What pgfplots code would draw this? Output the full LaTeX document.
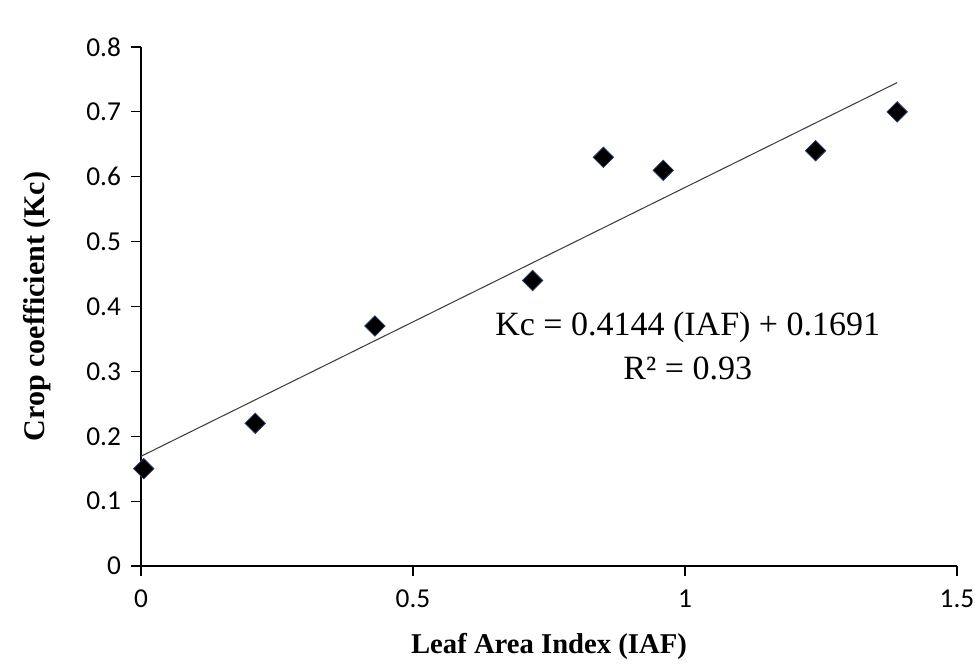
\documentclass[border=0pt]{standalone}
\usepackage{pgfplots}
\pgfplotsset{compat=1.18}
\usepackage{fontspec}
\setmainfont{Liberation Serif}
\newfontfamily\tickfont{Carlito}
\newcommand\tf[1]{{\tickfont\fontsize{20.5}{20.5}\selectfont #1}}
\begin{document}
\begin{tikzpicture}[x=1pt,y=1pt]
\begin{axis}[
  at={(0,0)}, anchor=origin,
  scale only axis=true,
  width=612pt, height=389.25pt,
  xmin=0, xmax=1.5, ymin=0, ymax=0.8,
  axis x line*=bottom, axis y line*=left,
  axis line style={black, line width=0.9pt, -},
  xtick={0,0.5,1,1.5}, xticklabels={\tf{0},\tf{0.5},\tf{1},\tf{1.5}},
  ytick={0,0.1,...,0.8},
  yticklabels={\tf{0},\tf{0.1},\tf{0.2},\tf{0.3},\tf{0.4},\tf{0.5},\tf{0.6},\tf{0.7},\tf{0.8}},
  tick align=outside,
  major tick length=7.5pt,
  tick style={black, line width=0.8pt},
  xticklabel style={yshift=-7pt},
  yticklabel style={xshift=-4pt},
  xlabel={\textbf{Leaf Area Index (IAF)}},
  ylabel={\textbf{Crop coefficient (Kc)}},
  xlabel style={font=\fontsize{21.5}{21.5}\selectfont, yshift=-12pt},
  ylabel style={font=\fontsize{22.5}{22.5}\selectfont, yshift=20pt},
  clip=false,
]
\addplot[black!75, line width=0.8pt] coordinates {(0,0.1691) (1.39,0.7451)};
\addplot[only marks, mark=square*, mark size=5.4pt,
  mark options={rotate=45, fill=black, draw={rgb,255:red,40;green,60;blue,100}, line width=0.6pt}]
  coordinates {
  (0.005,0.15) (0.21,0.22) (0.43,0.37) (0.72,0.44)
  (0.85,0.63) (0.96,0.61) (1.24,0.64) (1.39,0.70)};
\node[font=\fontsize{25.5}{25.5}\selectfont] at (axis cs:1.005,0.368) {Kc = 0.4144 (IAF) + 0.1691};
\node[font=\fontsize{25.5}{25.5}\selectfont] at (axis cs:1.005,0.304) {R² = 0.93};
\end{axis}
\pgfresetboundingbox
\useasboundingbox (-105.75pt,-74.25pt) rectangle (625.5pt,424.5pt);
\end{tikzpicture}
\end{document}
